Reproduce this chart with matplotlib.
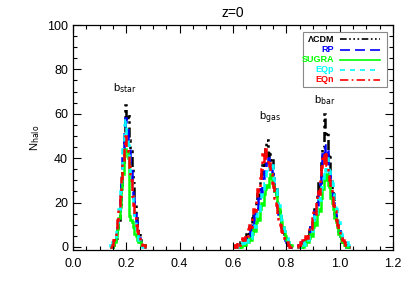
import numpy as np
import matplotlib
matplotlib.use("Agg")
import matplotlib.pyplot as plt
from matplotlib.ticker import MultipleLocator
from matplotlib.patches import Rectangle
from matplotlib.lines import Line2D

plt.rcParams["font.family"] = ["Liberation Sans", "DejaVu Sans"]

# histogram bins (width 0.005) and first bin edge for each group
bin_width = 0.005
star_start = 0.140
gas_start = 0.600
bar_start = 0.840

models = ["ΛCDM", "RP", "SUGRA", "EQp", "EQn"]

# b_star counts
star_lcdm = [0, 0, 1, 2, 4, 7, 12, 17, 28, 36, 52, 64, 57, 60, 48, 43, 35, 29, 20, 15, 9, 7, 4, 2, 1, 1, 0]
star_rp = [0, 1, 2, 3, 6, 9, 15, 21, 29, 40, 51, 58, 55, 47, 45, 36, 28, 22, 15, 11, 7, 4, 2, 1, 1, 0, 0]
star_sugra = [0, 0, 1, 2, 5, 8, 13, 18, 26, 33, 41, 44, 43, 40, 14, 12, 11, 9, 6, 5, 3, 2, 2, 1, 1, 1, 0]
star_eqp = [1, 2, 3, 4, 8, 11, 17, 25, 35, 44, 55, 57, 50, 46, 38, 33, 24, 18, 12, 8, 5, 3, 2, 1, 0, 0, 0]
star_eqn = [0, 1, 3, 5, 8, 12, 17, 23, 31, 38, 46, 50, 45, 43, 36, 30, 23, 19, 13, 10, 7, 5, 3, 2, 1, 1, 0]

# b_gas counts
gas_lcdm = [0, 0, 1, 0, 1, 2, 1, 3, 2, 4, 6, 5, 9, 8, 13, 15, 14, 21, 24, 22, 30, 33,
            38, 36, 44, 48, 41, 43, 37, 39, 31, 28, 26, 20, 17, 14, 10, 8, 6, 4, 3, 1, 1, 0]
gas_rp = [0, 0, 0, 1, 0, 1, 2, 1, 3, 2, 4, 6, 5, 8, 11, 10, 15, 18, 17, 22, 26, 24,
          31, 34, 33, 38, 40, 36, 37, 33, 30, 25, 23, 18, 15, 12, 9, 7, 5, 3, 2, 1, 1, 0]
gas_sugra = [0, 0, 0, 0, 0, 1, 0, 1, 2, 1, 3, 2, 4, 3, 6, 8, 7, 11, 13, 12, 17, 20,
             19, 24, 26, 28, 27, 31, 33, 30, 28, 25, 23, 20, 17, 14, 11, 9, 7, 5, 3, 2, 1, 1]
gas_eqp = [0, 0, 0, 0, 1, 0, 1, 2, 1, 3, 2, 4, 5, 4, 8, 10, 9, 14, 16, 15, 21, 24,
           23, 29, 31, 34, 33, 38, 36, 37, 31, 29, 26, 22, 19, 15, 12, 10, 7, 5, 4, 2, 1, 1]
gas_eqn = [0, 1, 0, 2, 1, 2, 3, 4, 3, 6, 5, 8, 10, 9, 14, 17, 16, 22, 26, 25, 31, 35,
           42, 38, 44, 40, 36, 38, 33, 29, 27, 22, 19, 15, 12, 10, 7, 5, 4, 2, 2, 1, 0, 0]

# b_bar counts
bar_lcdm = [0, 0, 1, 0, 2, 1, 3, 4, 3, 7, 9, 8, 14, 17, 16, 24, 29, 27, 38, 45,
            60, 50, 52, 40, 42, 31, 26, 24, 17, 13, 11, 7, 5, 4, 2, 2, 1, 1, 0, 0]
bar_rp = [0, 1, 0, 2, 1, 3, 2, 4, 6, 5, 9, 11, 10, 16, 19, 18, 25, 29, 34, 42,
          46, 40, 43, 35, 33, 27, 23, 20, 15, 12, 10, 7, 5, 4, 2, 2, 1, 0, 0, 0]
bar_sugra = [0, 0, 0, 1, 0, 2, 1, 3, 2, 4, 6, 5, 9, 11, 10, 15, 17, 16, 22, 26,
             32, 30, 33, 28, 27, 22, 20, 17, 13, 11, 9, 6, 5, 3, 2, 1, 1, 0, 0, 0]
bar_eqp = [0, 0, 1, 0, 2, 1, 3, 4, 3, 6, 8, 7, 12, 14, 13, 19, 22, 21, 27, 31,
           36, 34, 40, 38, 34, 31, 29, 24, 21, 17, 14, 11, 9, 6, 5, 3, 2, 2, 1, 0]
bar_eqn = [0, 1, 2, 1, 3, 2, 5, 4, 7, 9, 8, 13, 16, 15, 21, 25, 24, 31, 36, 42,
           38, 43, 37, 33, 30, 26, 24, 19, 16, 12, 10, 7, 5, 4, 3, 2, 1, 1, 0, 0]

colors = ["black", "#0000FF", "#00FF00", "#00FFFF", "#FF0000"]
styles = [(0, (4, 1.5, 1, 1.5, 1, 1.5, 1, 1.5)), (0, (6, 3)), "-", (0, (3, 3)), (0, (5, 2, 1, 2))]

groups = [
    (star_start, [star_lcdm, star_rp, star_sugra, star_eqp, star_eqn]),
    (gas_start, [gas_lcdm, gas_rp, gas_sugra, gas_eqp, gas_eqn]),
    (bar_start, [bar_lcdm, bar_rp, bar_sugra, bar_eqp, bar_eqn]),
]

fig = plt.figure(figsize=(4.15, 2.97), dpi=100)
ax = fig.add_axes([73 / 415, 1 - 250 / 297, 320 / 415, 225 / 297])

for start, series in groups:
    for counts, c, ls in zip(series, colors, styles):
        edges = start + bin_width * np.arange(len(counts) + 1)
        ax.stairs(counts, edges, color=c, linestyle=ls, linewidth=1.8)

ax.set_xlim(0, 1.2)
ax.set_ylim(-1.4, 100)
ax.xaxis.set_major_locator(MultipleLocator(0.2))
ax.xaxis.set_minor_locator(MultipleLocator(0.05))
ax.yaxis.set_major_locator(MultipleLocator(20))
ax.yaxis.set_minor_locator(MultipleLocator(5))
ax.xaxis.set_major_formatter(plt.FormatStrFormatter("%.1f"))
ax.tick_params(which="both", direction="in", top=True, right=True, labelsize=9, width=0.8)
ax.tick_params(which="major", length=6)
ax.tick_params(which="minor", length=3)
ax.tick_params(axis="x", pad=6)
for sp in ax.spines.values():
    sp.set_linewidth(0.9)

ax.set_title("z=0", fontsize=10, pad=6)
ax.set_ylabel(r"N$_{\rm halo}$", fontsize=8, labelpad=4)

# labels of the three groups
ax.text(0.195, 71.5, r"b$_{\rm star}$", fontsize=8, ha="center", va="center")
ax.text(0.74, 58, r"b$_{\rm gas}$", fontsize=8, ha="center", va="center")
ax.text(0.944, 66, r"b$_{\rm bar}$", fontsize=8, ha="center", va="center")

# legend box, text right aligned like the IDL original
ax.add_patch(Rectangle((0.719, 0.724), 0.262, 0.245, transform=ax.transAxes,
                       facecolor="white", edgecolor="#888888", linewidth=0.8, zorder=5))
row_px = [39, 49.5, 60, 70, 80]
for name, c, ls, py in zip(models, colors, styles, row_px):
    yf = 1 - (py - 25) / 225
    ax.text((334 - 73) / 320, yf, name, color=c, fontsize=6.5, fontweight="bold",
            ha="right", va="center", transform=ax.transAxes, zorder=6)
    ax.add_line(Line2D([(340 - 73) / 320, (380 - 73) / 320], [yf, yf], color=c,
                       linestyle=ls, linewidth=1.2, transform=ax.transAxes, zorder=6))

fig.savefig("out.png", dpi=100)
